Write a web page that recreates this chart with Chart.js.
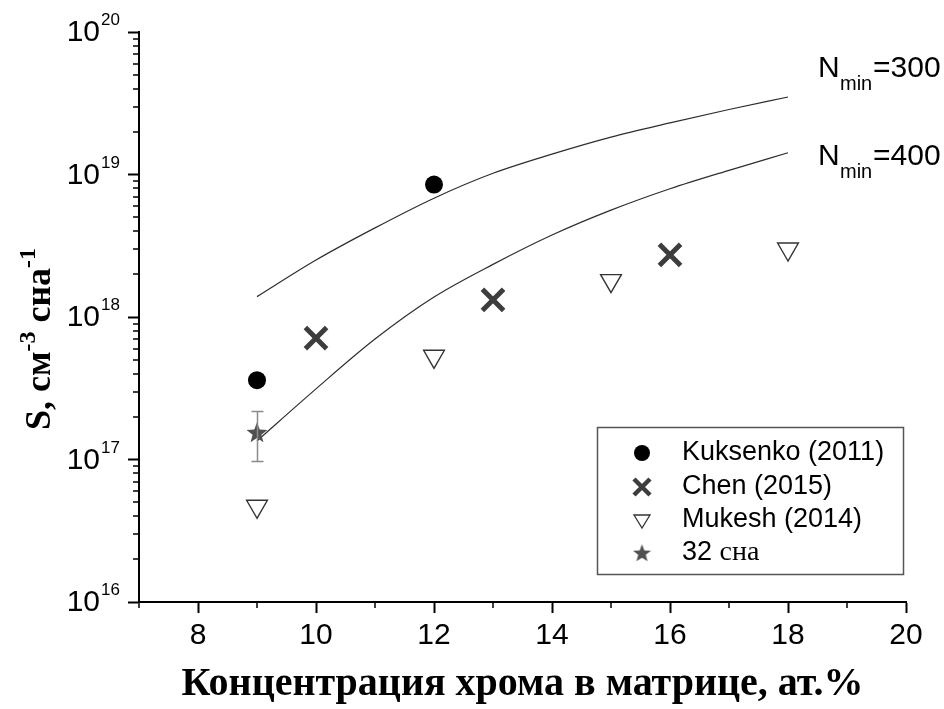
<!DOCTYPE html>
<html>
<head>
<meta charset="utf-8">
<script src="https://cdn.jsdelivr.net/npm/chart.js@4.4.1/dist/chart.umd.min.js"></script>
<style>
  html, body { margin: 0; padding: 0; background: #fff; }
  canvas { display: block; }
</style>
</head>
<body>
<canvas id="chart" width="944" height="709"></canvas>
<script>
// model curves: S(c) for two values of N_min, c in at.%
const curveX = [9, 10, 11, 12, 13, 14, 15, 16, 17, 18]
const nmin300 = [1.39e18, 2.51e18, 4.22e18, 6.82e18, 1.02e19, 1.39e19, 1.83e19, 2.3e19, 2.86e19, 3.5e19]
const nmin400 = [1.35e17, 3.13e17, 7.0e17, 1.38e18, 2.34e18, 3.76e18, 5.62e18, 7.94e18, 1.07e19, 1.42e19]

// measured points
const kuksenkoX = [9, 12]
const kuksenkoY = [3.6e17, 8.5e18]
const chenX = [10, 13, 16]
const chenY = [7.1e17, 1.32e18, 2.73e18]
const mukeshX = [9, 12, 15, 18]
const mukeshY = [4.7e16, 5.3e17, 1.8e18, 3.0e18]
const ownX = [9]
const ownY = [1.56e17]
const ownLow = [9.7e16]
const ownHigh = [2.17e17]

const xMajor = [8, 10, 12, 14, 16, 18, 20]
const xMinor = [7, 9, 11, 13, 15, 17, 19]
const yDecades = [16, 17, 18, 19, 20]

const SANS = '"Liberation Sans", Arial, sans-serif'
const SERIF = '"Liberation Serif", "Times New Roman", serif'

const pts = (xs, ys) => xs.map((x, i) => ({ x: x, y: ys[i] }))

function makeStar(size, color) {
  const c = document.createElement('canvas')
  c.width = size
  c.height = size
  const g = c.getContext('2d')
  const R = size / 2, r = R * 0.42
  const cx = size / 2, cy = size / 2 + size * 0.06
  g.beginPath()
  for (let i = 0; i < 10; i++) {
    const a = -Math.PI / 2 + i * Math.PI / 5
    const rad = i % 2 ? r : R
    g.lineTo(cx + rad * Math.cos(a), cy + rad * Math.sin(a))
  }
  g.closePath()
  g.fillStyle = color
  g.fill()
  return c
}

const starPoint = makeStar(22, '#505050')
const starLegend = makeStar(19, '#505050')

// minor ticks, 10^n labels, error bar, curve labels, legend box, y title
const decor = {
  id: 'decor',
  afterDatasetsDraw(chart) {
    const { ctx, scales: { x, y } } = chart
    ctx.save()
    ctx.strokeStyle = '#8a8a8a'
    ctx.lineWidth = 1.5
    ownX.forEach((v, i) => {
      const px = Math.round(x.getPixelForValue(v)) + 0.5
      const top = y.getPixelForValue(ownHigh[i])
      const bot = y.getPixelForValue(ownLow[i])
      ctx.beginPath()
      ctx.moveTo(px, top); ctx.lineTo(px, bot)
      ctx.moveTo(px - 6, top); ctx.lineTo(px + 6, top)
      ctx.moveTo(px - 6, bot); ctx.lineTo(px + 6, bot)
      ctx.stroke()
    })
    ctx.restore()
  },
  afterDraw(chart) {
    const { ctx, scales: { x, y }, chartArea: a } = chart
    ctx.save()

    ctx.strokeStyle = '#000'
    ctx.lineWidth = 1.5
    ctx.beginPath()
    xMinor.forEach(v => {
      const px = Math.round(x.getPixelForValue(v))
      ctx.moveTo(px, a.bottom); ctx.lineTo(px, a.bottom + 6)
    })
    yDecades.slice(0, -1).forEach(e => {
      for (let m = 2; m < 10; m++) {
        const py = Math.round(y.getPixelForValue(m * Math.pow(10, e)))
        ctx.moveTo(a.left - 6, py); ctx.lineTo(a.left, py)
      }
    })
    ctx.stroke()

    ctx.fillStyle = '#000'
    yDecades.forEach(e => {
      const py = y.getPixelForValue(Math.pow(10, e))
      ctx.font = '30px ' + SANS
      ctx.textAlign = 'right'
      ctx.textBaseline = 'middle'
      ctx.fillText('10', a.left - 39, py + 1)
      ctx.font = '17px ' + SANS
      ctx.textAlign = 'left'
      ctx.textBaseline = 'alphabetic'
      ctx.fillText(String(e), a.left - 38, py - 7)
    })

    // N_min labels
    const nLabel = (val, bx, by) => {
      ctx.textAlign = 'left'
      ctx.textBaseline = 'alphabetic'
      ctx.font = '30px ' + SANS
      ctx.fillText('N', bx, by)
      ctx.font = '20px ' + SANS
      ctx.fillText('min', bx + 22, by + 13)
      ctx.font = '30px ' + SANS
      ctx.fillText('=' + val, bx + 55, by)
    }
    nLabel('300', 818, 77)
    nLabel('400', 818, 165)

    // y axis title
    ctx.save()
    ctx.translate(50, 339)
    ctx.rotate(-Math.PI / 2)
    const parts = [
      ['S, см', false], ['-3', true], [' сна', false], ['-1', true]
    ]
    const mainFont = 'bold 36px ' + SERIF
    const supFont = 'bold 24px ' + SERIF
    let total = 0
    parts.forEach(p => { ctx.font = p[1] ? supFont : mainFont; total += ctx.measureText(p[0]).width })
    let cx = -total / 2
    ctx.textAlign = 'left'
    ctx.textBaseline = 'alphabetic'
    parts.forEach(p => {
      ctx.font = p[1] ? supFont : mainFont
      ctx.fillText(p[0], cx, p[1] ? -15 : 0)
      cx += ctx.measureText(p[0]).width
    })
    ctx.restore()

    // legend
    ctx.strokeStyle = '#555'
    ctx.lineWidth = 1.5
    ctx.strokeRect(597.5, 427.5, 306, 147)
    const mx = 642, tx = 682
    const rows = [453, 487, 520, 553]
    ctx.fillStyle = '#000'
    ctx.beginPath(); ctx.arc(mx, rows[0], 8, 0, Math.PI * 2); ctx.fill()
    ctx.strokeStyle = '#3d3d3d'
    ctx.lineWidth = 4.5
    ctx.beginPath()
    ctx.moveTo(mx - 8, rows[1] - 8); ctx.lineTo(mx + 8, rows[1] + 8)
    ctx.moveTo(mx + 8, rows[1] - 8); ctx.lineTo(mx - 8, rows[1] + 8)
    ctx.stroke()
    ctx.strokeStyle = '#333'
    ctx.lineWidth = 1.3
    ctx.beginPath()
    ctx.moveTo(mx - 8, rows[2] - 5); ctx.lineTo(mx + 8, rows[2] - 5); ctx.lineTo(mx, rows[2] + 8); ctx.closePath()
    ctx.stroke()
    ctx.drawImage(starLegend, mx - 9.5, rows[3] - 10)

    ctx.fillStyle = '#000'
    ctx.textAlign = 'left'
    ctx.textBaseline = 'middle'
    ctx.font = '27px ' + SANS
    ctx.fillText('Kuksenko (2011)', tx, rows[0])
    ctx.fillText('Chen (2015)', tx, rows[1])
    ctx.fillText('Mukesh (2014)', tx, rows[2])
    ctx.fillText('32 ', tx, rows[3])
    const w32 = ctx.measureText('32 ').width
    ctx.font = '28px ' + SERIF
    ctx.fillText('сна', tx + w32, rows[3])

    ctx.restore()
  }
}

const curve = (data, label) => ({
  label: label,
  data: data,
  showLine: true,
  borderColor: '#2e2e2e',
  borderWidth: 1.2,
  pointRadius: 0,
  cubicInterpolationMode: 'monotone',
  fill: false
})

new Chart(document.getElementById('chart'), {
  type: 'scatter',
  data: {
    datasets: [
      {
        label: 'Kuksenko (2011)',
        data: pts(kuksenkoX, kuksenkoY),
        pointStyle: 'circle',
        pointRadius: 9,
        backgroundColor: '#000',
        borderColor: '#000',
        borderWidth: 0
      },
      {
        label: 'Chen (2015)',
        data: pts(chenX, chenY),
        pointStyle: 'crossRot',
        pointRadius: 15,
        borderColor: '#3d3d3d',
        borderWidth: 5
      },
      {
        label: 'Mukesh (2014)',
        data: pts(mukeshX, mukeshY),
        pointStyle: 'triangle',
        rotation: 180,
        pointRadius: 12,
        backgroundColor: '#fff',
        borderColor: '#333',
        borderWidth: 1.4
      },
      {
        label: '32 сна',
        data: pts(ownX, ownY),
        pointStyle: starPoint,
        pointRadius: 11
      },
      curve(pts(curveX, nmin300), 'Nmin=300'),
      curve(pts(curveX, nmin400), 'Nmin=400')
    ]
  },
  options: {
    responsive: false,
    animation: false,
    devicePixelRatio: 1,
    layout: { padding: { top: 32, right: 38, left: 0, bottom: 0 } },
    plugins: {
      legend: { display: false },
      tooltip: { enabled: false }
    },
    scales: {
      x: {
        type: 'linear',
        min: 7,
        max: 20,
        afterBuildTicks: s => { s.ticks = xMajor.map(v => ({ value: v })) },
        afterFit: s => { s.height = 107 },
        grid: { drawOnChartArea: false, tickLength: 11, tickWidth: 2, tickColor: '#000' },
        border: { color: '#000', width: 2 },
        ticks: { color: '#000', font: { family: SANS, size: 30 }, padding: 5, maxRotation: 0 },
        title: {
          display: true,
          text: 'Концентрация хрома в матрице, ат.%',
          color: '#000',
          font: { family: SERIF, size: 40, weight: 'bold' },
          padding: { top: 0, bottom: 0 }
        }
      },
      y: {
        type: 'logarithmic',
        min: 1e16,
        max: 1e20,
        afterBuildTicks: s => { s.ticks = yDecades.map(e => ({ value: Math.pow(10, e) })) },
        afterFit: s => { s.width = 139 },
        grid: { drawOnChartArea: false, tickLength: 11, tickWidth: 2, tickColor: '#000' },
        border: { color: '#000', width: 2 },
        ticks: { display: false }
      }
    }
  },
  plugins: [decor]
})
</script>
</body>
</html>
